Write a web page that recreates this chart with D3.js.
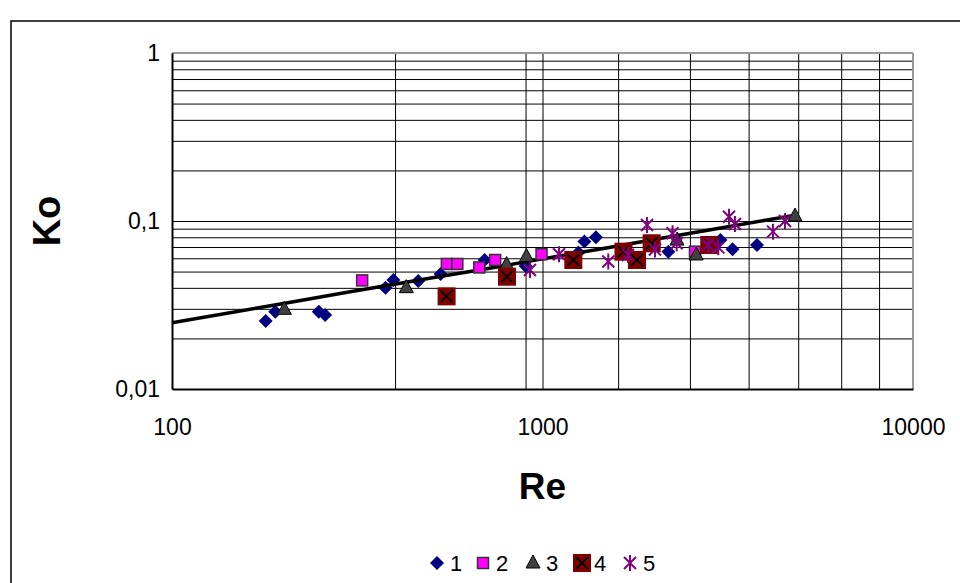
<!DOCTYPE html>
<html lang="en">
<head>
  <meta charset="UTF-8">
  <title>Ko vs Re</title>
  <script src="https://d3js.org/d3.v7.min.js"></script>
  <style>
    body { margin: 0; background: #fff; }
    text { font-family: Arial, "Liberation Sans", sans-serif; }
  </style>
</head>
<body>
<script>
// data: [Re, Ko]
var series1 = [[179, 0.0254], [190, 0.0288], [249, 0.0288], [259, 0.0276], [377, 0.0401],
               [396, 0.0446], [462, 0.0439], [531, 0.0484], [698, 0.0586], [900, 0.054],
               [1250, 0.065], [1298, 0.0755], [1394, 0.080], [2186, 0.0657], [3022, 0.077],
               [3257, 0.0679], [3793, 0.072]];
var series2 = [[326, 0.0443], [552, 0.0555], [589, 0.0555], [675, 0.0529], [745, 0.0586],
               [994, 0.0634], [2580, 0.0657]];
var series3 = [[201, 0.0298], [429, 0.0401], [800, 0.0551], [905, 0.0615], [2307, 0.077],
               [2600, 0.0628], [4803, 0.107]];
var series4 = [[551, 0.0356], [802, 0.0466], [1211, 0.0586], [1654, 0.0657], [1799, 0.0586],
               [1971, 0.0737], [2819, 0.072]];
var series5 = [[925, 0.0511], [1108, 0.0634], [1505, 0.0574], [1702, 0.0628], [1915, 0.0947],
               [2012, 0.0677], [2244, 0.0845], [2302, 0.0737], [2803, 0.072], [2982, 0.0697],
               [3187, 0.106], [3307, 0.096], [4190, 0.0864], [4513, 0.1]];
// the fitted line, points taken along it
var fitLine = [[100, 0.0248], [200, 0.0323], [300, 0.0378], [500, 0.0458], [700, 0.0518],
               [1000, 0.0595], [1500, 0.0694], [2000, 0.0775], [3000, 0.0906], [4000, 0.101],
               [4900, 0.109]];

var seriesNames = ["1", "2", "3", "4", "5"];
var xTickLabels = [100, 1000, 10000];
var yTickLabels = [0.01, 0.1, 1];
var xGridValues = [400, 900, 1000, 1600, 2500, 3600, 4900, 6400, 8100];
var yGridValues = [0.02, 0.03, 0.04, 0.05, 0.06, 0.07, 0.08, 0.09, 0.1,
                   0.2, 0.3, 0.4, 0.5, 0.6, 0.7, 0.8, 0.9];

var W = 960, H = 583;
var margin = {top: 53, right: 47, bottom: 194, left: 172};
var width = W - margin.left - margin.right;   // 741
var height = H - margin.top - margin.bottom;  // 336

var svg = d3.select("body").append("svg")
    .attr("width", W)
    .attr("height", H);

// outer chart frame (runs off the right and bottom edges)
svg.append("rect")
    .attr("x", 11).attr("y", 21)
    .attr("width", W).attr("height", H)
    .attr("fill", "none")
    .attr("stroke", "#000")
    .attr("stroke-width", 1.5);

var g = svg.append("g")
    .attr("transform", "translate(" + margin.left + "," + margin.top + ")");

var x = d3.scaleLog().domain([100, 10000]).range([0, width]);
var y = d3.scaleLog().domain([0.01, 1]).range([height, 0]);

// gridlines
g.append("g")
    .attr("class", "grid")
    .call(d3.axisBottom(x).tickValues(xGridValues).tickSize(height).tickFormat(""))
    .call(function(s) { s.select(".domain").remove(); })
    .selectAll("line").attr("stroke", "#000").attr("stroke-width", 1);

g.append("g")
    .attr("class", "grid")
    .call(d3.axisLeft(y).tickValues(yGridValues).tickSize(-width).tickFormat(""))
    .call(function(s) { s.select(".domain").remove(); })
    .selectAll("line").attr("stroke", "#000").attr("stroke-width", 1);

// plot frame: grey top/right, black axes
g.append("line").attr("x1", 0).attr("x2", width).attr("y1", 0).attr("y2", 0)
    .attr("stroke", "#9a9a9a").attr("stroke-width", 2);
g.append("line").attr("x1", width).attr("x2", width).attr("y1", 0).attr("y2", height)
    .attr("stroke", "#9a9a9a").attr("stroke-width", 2);

var fmt = function(d) { return String(d).replace(".", ","); };

var yAxis = g.append("g")
    .call(d3.axisLeft(y).tickValues(yTickLabels).tickSize(0).tickPadding(12).tickFormat(fmt));
yAxis.select(".domain").attr("stroke", "#000").attr("stroke-width", 2);
yAxis.selectAll("text").style("font-size", "23px").attr("fill", "#000");

var xAxis = g.append("g")
    .attr("transform", "translate(0," + height + ")")
    .call(d3.axisBottom(x).tickValues(xTickLabels).tickSize(0).tickPadding(30).tickFormat(d3.format("d")));
xAxis.select(".domain").attr("stroke", "#000").attr("stroke-width", 2);
xAxis.selectAll("text").style("font-size", "23px").attr("fill", "#000");

// axis titles
svg.append("text")
    .attr("transform", "translate(60," + (margin.top + y(0.1)) + ") rotate(-90)")
    .attr("text-anchor", "middle")
    .style("font-size", "38px").style("font-weight", "bold")
    .text("Ko");

svg.append("text")
    .attr("x", margin.left + x(1000))
    .attr("y", 499)
    .attr("text-anchor", "middle")
    .style("font-size", "37px").style("font-weight", "bold")
    .text("Re");

// marker drawers
function drawDiamond(sel) {
  sel.append("path").attr("d", "M0,-7L7,0L0,7L-7,0Z").attr("fill", "#000080");
}
function drawSquare(sel) {
  sel.append("rect").attr("x", -5.5).attr("y", -5.5).attr("width", 11).attr("height", 11)
     .attr("fill", "#ff00ff").attr("stroke", "#333").attr("stroke-width", 1.5);
}
function drawTriangle(sel) {
  sel.append("path").attr("d", "M0,-8L7,5L-7,5Z")
     .attr("fill", "#404040").attr("stroke", "#000").attr("stroke-width", 1);
}
function drawCross(sel) {
  sel.append("rect").attr("x", -9).attr("y", -9).attr("width", 18).attr("height", 18)
     .attr("fill", "#800000");
  sel.append("path").attr("d", "M-6,-6L6,6M6,-6L-6,6")
     .attr("stroke", "#000").attr("stroke-width", 1.8);
}
function drawStar(sel) {
  sel.append("path").attr("d", "M-6,-6L6,6M6,-6L-6,6M0,-8L0,8")
     .attr("stroke", "#800080").attr("stroke-width", 2);
}

var seriesList = [
  {data: series1, draw: drawDiamond},
  {data: series2, draw: drawSquare},
  {data: series3, draw: drawTriangle},
  {data: series4, draw: drawCross},
  {data: series5, draw: drawStar}
];

function plotSeries(s) {
  g.append("g").selectAll("g")
    .data(s.data)
    .enter().append("g")
    .attr("transform", function(d) { return "translate(" + x(d[0]) + "," + y(d[1]) + ")"; })
    .each(function() { s.draw(d3.select(this)); });
}

plotSeries(seriesList[0]);

// fitted line
var line = d3.line()
    .x(function(d) { return x(d[0]); })
    .y(function(d) { return y(d[1]); });

g.append("path")
    .datum(fitLine)
    .attr("d", line)
    .attr("fill", "none")
    .attr("stroke", "#000")
    .attr("stroke-width", 3.5);

seriesList.slice(1).forEach(plotSeries);

// legend
var legendX = [437, 483, 533, 582, 630];
var legend = svg.selectAll(".legend")
    .data(seriesList)
    .enter().append("g")
    .attr("class", "legend")
    .attr("transform", function(d, i) { return "translate(" + legendX[i] + ",563)"; });

legend.each(function(d) { d.draw(d3.select(this)); });

legend.append("text")
    .attr("x", function(d, i) { return i === 3 ? 12 : 13; })
    .attr("y", 8)
    .style("font-size", "22px")
    .text(function(d, i) { return seriesNames[i]; });
</script>
</body>
</html>
